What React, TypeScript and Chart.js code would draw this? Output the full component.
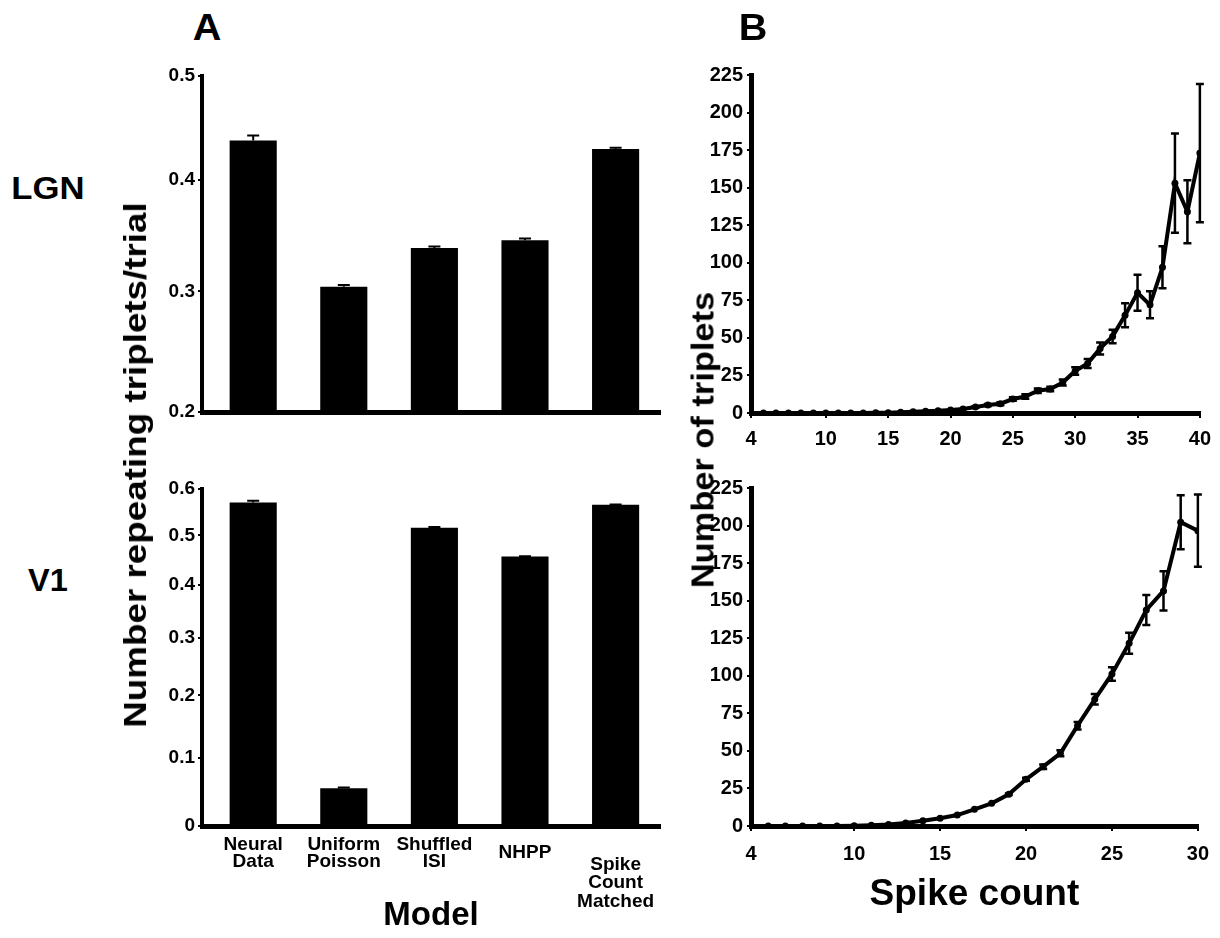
import React, { useEffect, useRef } from 'react';
import { Chart, registerables, LinearScale } from 'chart.js';

Chart.register(...registerables);

// ---- custom log(1+v) value axis (the left panels use this compressed scale) ----
class Log1pScale extends LinearScale {
  static id = 'log1p';
  static defaults = LinearScale.defaults;
  getPixelForValue(value: any) {
    if (value === null || value === undefined || isNaN(value)) return NaN;
    const a = Math.log1p(this.min);
    const b = Math.log1p(this.max);
    return this.getPixelForDecimal((Math.log1p(value) - a) / (b - a));
  }
  getValueForPixel(pixel: number) {
    const a = Math.log1p(this.min);
    const b = Math.log1p(this.max);
    return Math.expm1(a + this.getDecimalForPixel(pixel) * (b - a));
  }
}
Chart.register(Log1pScale as any);

// ---------------- DATA ----------------
const MODELS = ['Neural Data', 'Uniform Poisson', 'Shuffled ISI', 'NHPP', 'Spike Count Matched'];
const MODEL_LABEL_LINES = [['Neural', 'Data'], ['Uniform', 'Poisson'], ['Shuffled', 'ISI'], ['NHPP'], ['', 'Spike', 'Count', 'Matched']];
const MODEL_POS = [0, 1, 2, 3, 4];

const LGN_BARS = [0.437, 0.304, 0.338, 0.345, 0.429];
const LGN_BAR_ERR = [0.005, 0.0015, 0.0015, 0.0015, 0.0012];
const V1_BARS = [0.57, 0.054, 0.516, 0.456, 0.565];
const V1_BAR_ERR = [0.004, 0.001, 0.0015, 0.001, 0.001];

const LGN_SPIKES = [4, 5, 6, 7, 8, 9, 10, 11, 12, 13, 14, 15, 16, 17, 18, 19, 20, 21, 22, 23, 24, 25, 26, 27, 28, 29, 30, 31, 32, 33, 34, 35, 36, 37, 38, 39, 40];
const LGN_TRIPLETS = [0, 0, 0, 0, 0, 0, 0, 0, 0, 0, 0.1, 0.2, 0.5, 0.8, 1.1, 1.5, 2, 2.6, 4, 5.3, 6.2, 9.3, 11, 14.8, 16, 20.3, 28, 33, 43, 51, 65, 80, 72, 97, 153, 134, 173];
const LGN_TRIPLET_ERR = [0, 0, 0, 0, 0, 0, 0, 0, 0, 0, 0, 0, 0, 0, 0, 0, 0, 0, 0.5, 0.7, 1, 1.2, 1.5, 1.5, 1.5, 2, 2.5, 3, 4, 4.5, 8, 12, 9, 14, 33, 21, 46];

const V1_SPIKES = [4, 5, 6, 7, 8, 9, 10, 11, 12, 13, 14, 15, 16, 17, 18, 19, 20, 21, 22, 23, 24, 25, 26, 27, 28, 29, 30];
const V1_TRIPLETS = [0, 0, 0, 0, 0, 0, 0.2, 0.5, 1, 2, 3.5, 5.1, 7.3, 11.1, 15.1, 21.1, 31.1, 39.5, 48.4, 66.8, 84.3, 101.2, 121.6, 143.8, 156.5, 202.2, 196.6];
const V1_TRIPLET_ERR = [0, 0, 0, 0, 0, 0, 0, 0, 0, 0, 0, 0, 0, 0, 0, 0.5, 1, 1.5, 2, 2.5, 3.5, 4.5, 7, 10, 13, 18, 24];

const LGN_X_TICKS = [4, 10, 15, 20, 25, 30, 35, 40];
const V1_X_TICKS = [4, 10, 15, 20, 25, 30];

// ---------------- STYLE ----------------
const FONT = '"Liberation Sans", Arial, Helvetica, sans-serif';
Chart.defaults.font.family = FONT;
Chart.defaults.font.weight = 'bold' as any;
Chart.defaults.color = '#000';

const errorBarPlugin = {
  id: 'errorBars',
  afterDatasetsDraw(chart: any) {
    const ctx = chart.ctx;
    chart.data.datasets.forEach((ds: any, di: number) => {
      const errs = ds.errors;
      if (!errs) return;
      const meta = chart.getDatasetMeta(di);
      const ys = chart.scales[meta.yAxisID];
      ctx.save();
      ctx.strokeStyle = '#000';
      ctx.lineWidth = ds.errorLineWidth || 2;
      meta.data.forEach((el: any, i: number) => {
        const e = errs[i];
        if (!e) return;
        const v = ds.data[i].y;
        const top = ys.getPixelForValue(v + e);
        const bot = ds.errorUpOnly ? el.y : ys.getPixelForValue(v - e);
        const x = el.x;
        const cap = ds.errorCap || 4;
        ctx.beginPath();
        ctx.moveTo(x, top);
        ctx.lineTo(x, bot);
        ctx.moveTo(x - cap, top);
        ctx.lineTo(x + cap, top);
        if (!ds.errorUpOnly) {
          ctx.moveTo(x - cap, bot);
          ctx.lineTo(x + cap, bot);
        }
        ctx.stroke();
      });
      ctx.restore();
    });
  },
};

function barConfig(values: number[], errors: number[], yMin: number, yMax: number, withLabels: boolean, padTop: number, xHeight: number) {
  return {
    type: 'bar',
    data: {
      datasets: [
        {
          label: 'repeating triplets/trial',
          data: MODEL_POS.map((p, i) => ({ x: p, y: values[i] })),
          backgroundColor: '#000',
          borderWidth: 0,
          barPercentage: 0.52,
          categoryPercentage: 1,
          errors,
          errorUpOnly: true,
          errorCap: 6,
          errorLineWidth: 2,
        },
      ],
    },
    options: {
      responsive: false,
      animation: false,
      layout: { padding: { top: padTop, right: 20, left: 0, bottom: 0 } },
      plugins: { legend: { display: false }, tooltip: { enabled: false } },
      scales: {
        x: {
          type: 'linear',
          offset: false,
          min: -0.565,
          max: 4.49,
          afterBuildTicks: (s: any) => {
            s.ticks = MODEL_POS.map((v) => ({ value: v }));
          },
          afterFit: (s: any) => {
            s.height = xHeight;
          },
          grid: { display: false, drawTicks: false, tickLength: 0 },
          border: { display: true, color: '#000', width: 5 },
          ticks: {
            display: withLabels,
            autoSkip: false,
            maxRotation: 0,
            padding: 11,
            callback: (v: any) => MODEL_LABEL_LINES[v] ?? '',
            font: (c: any) => ({
              family: FONT,
              size: 19,
              weight: 'bold',
              lineHeight: c.index === 3 ? '32.5px' : c.index === 4 ? '18.45px' : '16.5px',
            }),
          },
          title: withLabels
            ? { display: true, text: 'Model', font: { family: FONT, size: 33, weight: 'bold' }, padding: { top: 0, bottom: 2 } }
            : { display: false },
        },
        y: {
          type: 'log1p',
          min: yMin,
          max: yMax,
          afterFit: (s: any) => {
            s.width = 62;
          },
          grid: { display: true, drawOnChartArea: false, drawTicks: true, tickLength: 4, lineWidth: 2, color: '#000' },
          border: { display: true, color: '#000', width: 4 },
          ticks: { stepSize: 0.1, padding: 3, font: { family: FONT, size: 19, weight: 'bold' } },
        },
      },
    },
    plugins: [errorBarPlugin],
  };
}

function lineConfig(xs: number[], ys: number[], errs: number[], xMax: number, xTicks: number[], withTitle: boolean, padTop: number, xHeight: number, tickPad: number) {
  return {
    type: 'line',
    data: {
      datasets: [
        {
          label: 'Number of triplets',
          data: xs.map((x, i) => ({ x, y: ys[i] })),
          borderColor: '#000',
          backgroundColor: '#000',
          borderWidth: 4,
          pointRadius: 3.5,
          pointBackgroundColor: '#000',
          pointBorderWidth: 0,
          tension: 0,
          errors: errs,
          errorUpOnly: false,
          errorCap: 4,
          errorLineWidth: 2.5,
        },
      ],
    },
    options: {
      responsive: false,
      animation: false,
      layout: { padding: { top: padTop, right: 18, left: 0, bottom: 0 } },
      plugins: { legend: { display: false }, tooltip: { enabled: false } },
      scales: {
        x: {
          type: 'linear',
          min: 4,
          max: xMax,
          afterBuildTicks: (s: any) => {
            s.ticks = xTicks.map((v) => ({ value: v }));
          },
          afterFit: (s: any) => {
            s.height = xHeight;
          },
          grid: { display: true, drawOnChartArea: false, drawTicks: true, tickLength: 5, lineWidth: 2, color: '#000' },
          border: { display: true, color: '#000', width: 5 },
          ticks: { autoSkip: false, maxRotation: 0, padding: tickPad, font: { family: FONT, size: 20, weight: 'bold' } },
          title: withTitle
            ? { display: true, text: 'Spike count', font: { family: FONT, size: 37, weight: 'bold' }, padding: { top: 0, bottom: 21 } }
            : { display: false },
        },
        y: {
          type: 'linear',
          min: 0,
          max: 225,
          afterFit: (s: any) => {
            s.width = 71;
          },
          grid: { display: true, drawOnChartArea: false, drawTicks: true, tickLength: 4, lineWidth: 2, color: '#000' },
          border: { display: true, color: '#000', width: 5 },
          ticks: { stepSize: 25, padding: 4, font: { family: FONT, size: 20, weight: 'bold' } },
        },
      },
    },
    plugins: [errorBarPlugin],
  };
}

function ChartBox({ left, top, width, height, make }: { left: number; top: number; width: number; height: number; make: () => any }) {
  const ref = useRef<HTMLCanvasElement | null>(null);
  useEffect(() => {
    if (!ref.current) return;
    const chart = new Chart(ref.current, make());
    return () => chart.destroy();
  }, []);
  return <canvas ref={ref} width={width} height={height} style={{ position: 'absolute', left, top, width, height }} />;
}

function Label({ text, x, y, size, rotate, stretch = 1 }: { text: string; x: number; y: number; size: number; rotate?: boolean; stretch?: number }) {
  return (
    <div
      style={{
        position: 'absolute',
        left: x,
        top: y,
        transform: `translate(-50%, -50%)${rotate ? ' rotate(-90deg)' : ''} scaleX(${stretch})`,
        fontFamily: FONT,
        fontWeight: 'bold',
        fontSize: size,
        lineHeight: 1,
        whiteSpace: 'nowrap',
        color: '#000',
      }}
    >
      {text}
    </div>
  );
}

export default function App() {
  return (
    <div style={{ position: 'absolute', left: 0, top: 0, width: 1220, height: 938, background: '#fff', overflow: 'hidden' }}>
      <ChartBox left={140} top={50} width={540} height={380} make={() => barConfig(LGN_BARS, LGN_BAR_ERR, 0.2, 0.5, false, 26, 18)} />
      <ChartBox left={140} top={460} width={540} height={478} make={() => barConfig(V1_BARS, V1_BAR_ERR, 0, 0.6, true, 29, 112)} />
      <ChartBox left={680} top={40} width={540} height={420} make={() => lineConfig(LGN_SPIKES, LGN_TRIPLETS, LGN_TRIPLET_ERR, 40, LGN_X_TICKS, false, 35, 47, 9)} />
      <ChartBox left={680} top={460} width={540} height={478} make={() => lineConfig(V1_SPIKES, V1_TRIPLETS, V1_TRIPLET_ERR, 30, V1_X_TICKS, true, 28, 112, 11)} />
      <Label text="A" x={207} y={28} size={36} stretch={1.1} />
      <Label text="B" x={753} y={28} size={36} stretch={1.1} />
      <Label text="LGN" x={48} y={188} size={31} stretch={1.12} />
      <Label text="V1" x={48} y={580} size={31} stretch={1.05} />
      <Label text="Number repeating triplets/trial" x={135} y={465} size={32} rotate stretch={1.15} />
      <Label text="Number of triplets" x={703} y={440} size={31} rotate stretch={1.11} />
    </div>
  );
}
